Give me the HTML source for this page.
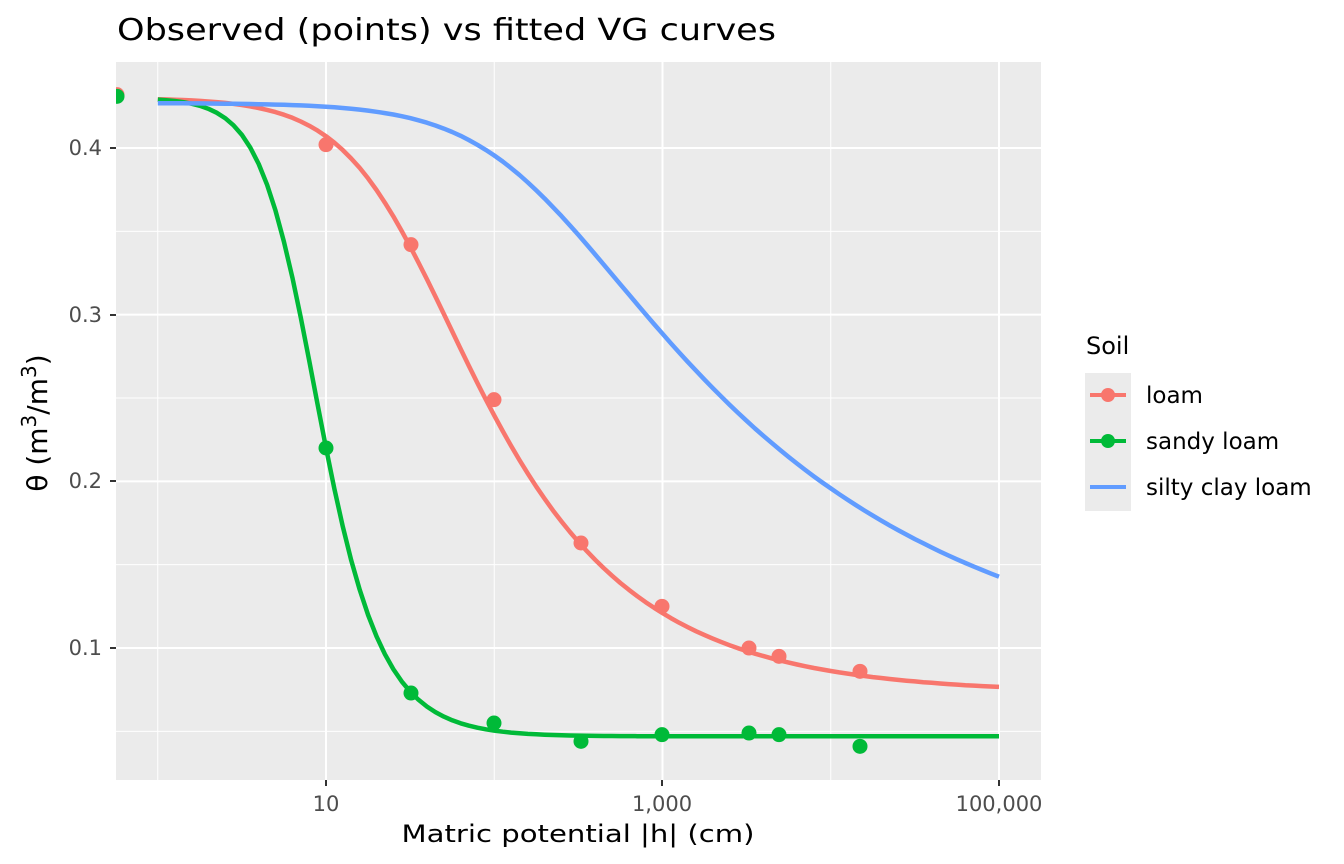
<!DOCTYPE html>
<html><head><meta charset="utf-8"><style>body{margin:0;background:#fff}svg{display:block}text{font-family:"DejaVu Sans","Liberation Sans",sans-serif}</style></head>
<body>
<svg id="s" width="1344" height="864" xmlns="http://www.w3.org/2000/svg">
<rect x="116" y="62" width="925" height="718" fill="#ebebeb"/>
<g id="grid"></g>
<g id="curves"></g>
<g id="pts"></g>
<text x="117" y="40" font-size="30" fill="#000" textLength="659" lengthAdjust="spacingAndGlyphs">Observed (points) vs fitted VG curves</text>
<text x="578" y="842" font-size="24" text-anchor="middle" fill="#000" textLength="353" lengthAdjust="spacingAndGlyphs">Matric potential |h| (cm)</text>
<text transform="translate(47,423) rotate(-90)" font-size="28" text-anchor="middle" fill="#000">θ (m<tspan dy="-11" font-size="20">3</tspan><tspan dy="11">/m</tspan><tspan dy="-11" font-size="20">3</tspan><tspan dy="11">)</tspan></text>
<g font-size="21" fill="#4d4d4d">
<text x="102" y="155" text-anchor="end">0.4</text>
<text x="102" y="322" text-anchor="end">0.3</text>
<text x="102" y="488" text-anchor="end">0.2</text>
<text x="102" y="655" text-anchor="end">0.1</text>
<text x="326" y="811" text-anchor="middle">10</text>
<text x="662" y="811" text-anchor="middle">1,000</text>
<text x="999" y="811" text-anchor="middle">100,000</text>
</g>
<g stroke="#333" stroke-width="2">
<line x1="110" y1="148" x2="116" y2="148"/><line x1="110" y1="315" x2="116" y2="315"/>
<line x1="110" y1="481" x2="116" y2="481"/><line x1="110" y1="648" x2="116" y2="648"/>
<line x1="326" y1="780" x2="326" y2="786"/><line x1="662" y1="780" x2="662" y2="786"/><line x1="999" y1="780" x2="999" y2="786"/>
</g>
<text x="1086" y="354" font-size="24" fill="#000">Soil</text>
<rect x="1085" y="373" width="46" height="138" fill="#ebebeb"/>
<line x1="1090" y1="395" x2="1126" y2="395" stroke="#F8766D" stroke-width="4"/><circle cx="1108" cy="395" r="7" fill="#F8766D"/>
<line x1="1090" y1="441" x2="1126" y2="441" stroke="#00BA38" stroke-width="4"/><circle cx="1108" cy="441" r="7" fill="#00BA38"/>
<line x1="1090" y1="487" x2="1126" y2="487" stroke="#619CFF" stroke-width="4"/>
<g font-size="23" fill="#000">
<text x="1146" y="403">loam</text><text x="1146" y="449">sandy loam</text><text x="1146" y="495">silty clay loam</text>
</g>
</svg>
<script>
var NS="http://www.w3.org/2000/svg";
function X(h){return 326+(Math.log10(h)-1)*168.25;}
function Y(v){return 148+(0.4-v)*1666.7;}
function el(p,t,a){var e=document.createElementNS(NS,t);for(var k in a)e.setAttribute(k,a[k]);document.getElementById(p).appendChild(e);}
[0.05,0.15,0.25,0.35].forEach(function(v){el("grid","line",{x1:116,x2:1041,y1:Y(v),y2:Y(v),stroke:"#fff","stroke-width":1});});
[1,100,10000].forEach(function(h){el("grid","line",{x1:X(h),x2:X(h),y1:62,y2:780,stroke:"#fff","stroke-width":1});});
[0.1,0.2,0.3,0.4].forEach(function(v){el("grid","line",{x1:116,x2:1041,y1:Y(v),y2:Y(v),stroke:"#fff","stroke-width":2});});
[10,1000,100000].forEach(function(h){el("grid","line",{x1:X(h),x2:X(h),y1:62,y2:780,stroke:"#fff","stroke-width":2});});
function vg(tr,ts,a,n){return function(h){var m=1-1/n;return tr+(ts-tr)*Math.pow(1+Math.pow(a*h,n),-m);};}
var curves=[["#F8766D",vg(0.073,0.43,0.036,1.56)],["#00BA38",vg(0.047,0.43,0.1375,2.8)],["#619CFF",vg(0.078,0.427,0.0065,1.26)]];
curves.forEach(function(c){var p=[];for(var i=0;i<=100;i++){var h=Math.pow(10,i*0.05);p.push(X(h).toFixed(1)+","+Y(c[1](h)).toFixed(1));}
el("curves","polyline",{points:p.join(" "),fill:"none",stroke:c[0],"stroke-width":4.5,"stroke-linejoin":"round"});});
var xs=[117,326,411,494,581,662,749,779,860];
var loam=[0.432,0.402,0.342,0.249,0.163,0.125,0.100,0.095,0.086];
var sandy=[0.431,0.220,0.073,0.055,0.044,0.048,0.049,0.048,0.041];
xs.forEach(function(x,i){el("pts","circle",{cx:x,cy:Y(loam[i]),r:7.5,fill:"#F8766D"});});
xs.forEach(function(x,i){el("pts","circle",{cx:x,cy:Y(sandy[i]),r:7.5,fill:"#00BA38"});});
el("pts","rect",{x:100,y:80,width:16,height:40,fill:"#fff"});
</script>
</body></html>
